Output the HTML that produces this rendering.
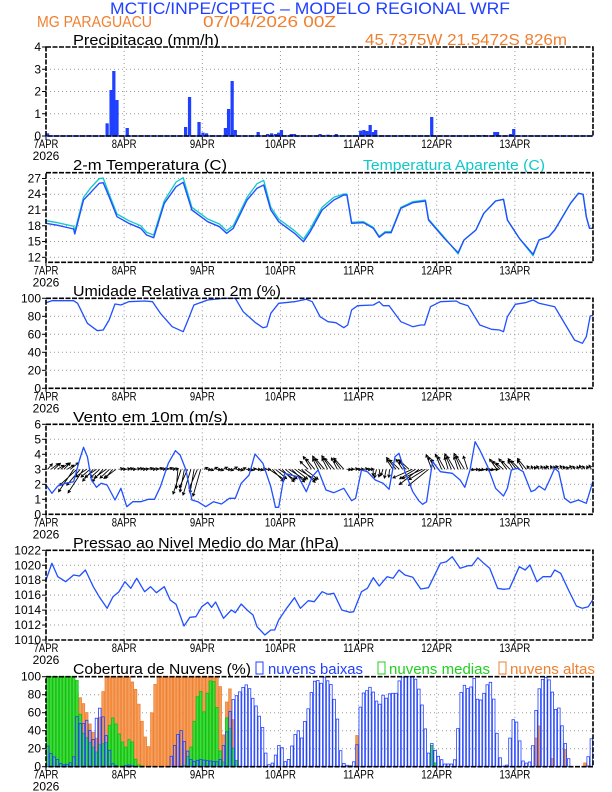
<!DOCTYPE html>
<html><head><meta charset="utf-8"><style>
html,body{margin:0;padding:0;background:#fff;}
svg{display:block;font-family:"Liberation Sans",sans-serif;}
</style></head><body>
<svg id="s" width="612" height="792" viewBox="0 0 612 792" xmlns="http://www.w3.org/2000/svg">
<text x="110" y="14" font-size="17" fill="#2040ff" textLength="400" lengthAdjust="spacingAndGlyphs">MCTIC/INPE/CPTEC – MODELO REGIONAL WRF</text>
<text x="37" y="27" font-size="16" fill="#f08030" textLength="115" lengthAdjust="spacingAndGlyphs">MG PARAGUACU</text>
<text x="203" y="27" font-size="16" fill="#f08030" textLength="133" lengthAdjust="spacingAndGlyphs">07/04/2026 00Z</text>
<text x="365" y="45" font-size="16" fill="#f08030" textLength="202" lengthAdjust="spacingAndGlyphs">45.7375W 21.5472S 826m</text>
<text x="73" y="45" font-size="15" fill="#000" textLength="146" lengthAdjust="spacingAndGlyphs">Precipitacao (mm/h)</text>
<text x="73" y="170" font-size="15" fill="#000" textLength="154" lengthAdjust="spacingAndGlyphs">2-m Temperatura (C)</text>
<text x="363" y="170" font-size="15" fill="#10c8c8" textLength="182" lengthAdjust="spacingAndGlyphs">Temperatura Aparente (C)</text>
<text x="73" y="296" font-size="15" fill="#000" textLength="208" lengthAdjust="spacingAndGlyphs">Umidade Relativa em 2m (%)</text>
<text x="73" y="422" font-size="15" fill="#000" textLength="155" lengthAdjust="spacingAndGlyphs">Vento em 10m (m/s)</text>
<text x="73" y="548" font-size="15" fill="#000" textLength="266" lengthAdjust="spacingAndGlyphs">Pressao ao Nivel Medio do Mar (hPa)</text>
<text x="73" y="674" font-size="15" fill="#000" textLength="178" lengthAdjust="spacingAndGlyphs">Cobertura de Nuvens (%)</text>
<rect x="256" y="662" width="7" height="12" fill="none" stroke="#2040ff"/>
<text x="268" y="674" font-size="15" fill="#2040ff" textLength="95" lengthAdjust="spacingAndGlyphs">nuvens baixas</text>
<rect x="378" y="662" width="7" height="12" fill="none" stroke="#20d020"/>
<text x="389" y="674" font-size="15" fill="#20d020" textLength="101" lengthAdjust="spacingAndGlyphs">nuvens medias</text>
<rect x="499" y="662" width="7" height="12" fill="none" stroke="#f08030"/>
<text x="510" y="674" font-size="15" fill="#f08030" textLength="85" lengthAdjust="spacingAndGlyphs">nuvens altas</text>
<g id="g"></g>
</svg>
<script>
var NS="http://www.w3.org/2000/svg",G=document.getElementById("g");
function el(t,a,txt){var e=document.createElementNS(NS,t);for(var k in a)e.setAttribute(k,a[k]);if(txt!=null)e.textContent=txt;G.appendChild(e);return e;}
var L=46,R=593,W=R-L;
function zx(z){return L+(z-130)/1387*W;}
var days=["7APR","8APR","9APR","10APR","11APR","12APR","13APR"];
function panel(top,bot,vmin,vmax,ticks){
  for(var d=1;d<7;d++){var x=L+d*W/7;el("line",{x1:x,y1:top,x2:x,y2:bot,stroke:"#999","stroke-dasharray":"1,3"});}
  ticks.forEach(function(v){var y=bot-(v-vmin)/(vmax-vmin)*(bot-top);
    if(v>vmin&&v<vmax)el("line",{x1:L,y1:y,x2:R,y2:y,stroke:"#999","stroke-dasharray":"1,3"});
    el("line",{x1:L-4,y1:y,x2:L,y2:y,stroke:"#000"});
    el("text",{x:L-5,y:y+4,"font-size":12,"text-anchor":"end"},String(v));});
  for(var d=0;d<7;d++){var x=L+d*W/7;el("line",{x1:x,y1:bot,x2:x,y2:bot+4,stroke:"#000"});
    el("text",{x:x,y:bot+12,"font-size":12,"text-anchor":"middle",textLength:days[d].length*6.2,lengthAdjust:"spacingAndGlyphs"},days[d]);}
  el("text",{x:L,y:bot+24,"font-size":12,"text-anchor":"middle"},"2026");
}
function frame(top,bot){el("rect",{x:L,y:top,width:W,height:bot-top,fill:"none",stroke:"#000","stroke-width":1.6,"stroke-dasharray":"5,1.5"});}
function line(pts,oy,col,w,dy){var d="";pts.forEach(function(p,i){d+=(i?"L":"M")+zx(p[0]).toFixed(1)+","+(oy+p[1]/3+(dy||0)).toFixed(1);});
  el("path",{d:d,fill:"none",stroke:col,"stroke-width":w||1.3,"stroke-linejoin":"round"});}
function P(a){var r=[];for(var i=0;i<a.length;i+=2)r.push([a[i],a[i+1]]);return r;}

panel(47,136,0,4,[0,1,2,3,4]);
var pr=[134,400,240,406,285,370,295,270,302,213,310,300,336,384,484,381,494,291,518,366,528,398,537,400,585,384,593,327,602,243,610,390,668,396,692,402,702,400,712,402,720,398,727,390,752,402,760,402,825,402,845,404,866,402,928,392,936,390,944,393,952,375,960,396,966,390,1043,405,1108,351,1225,405,1240,405,1268,396,1275,396,1308,402,1316,387,1425,405];
var bw=W/168;
for(var i=0;i<pr.length;i+=2){var x=zx(pr[i])-bw/2,y=pr[i+1]/3;el("rect",{x:x,y:y,width:bw,height:136-y,fill:"#2040ff"});}
el("line",{x1:L,y1:136,x2:R,y2:136,stroke:"#2040ff","stroke-width":1.5});
frame(47,136);

panel(172.7,262.3,11.05,28.1,[12,15,18,21,24,27]);
var T=P([130,190,160,196,200,207,203,222,225,120,245,95,265,70,275,68,290,110,310,170,340,190,370,205,385,225,403,233,430,130,460,80,478,67,500,150,540,185,570,200,588,220,605,205,640,120,665,85,682,75,700,150,720,185,760,220,783,245,800,215,830,150,860,120,885,105,893,105,905,190,935,188,960,205,975,232,990,218,1005,218,1030,145,1060,128,1092,123,1100,180,1140,235,1175,278,1190,240,1220,210,1240,160,1270,123,1290,118,1300,180,1330,235,1365,283,1380,240,1405,230,1420,210,1460,130,1480,100,1492,103,1500,170,1508,205,1517,205]);
var C=T.map(function(p){var o=p[0]<880?(p[1]<110?-14:-8):(p[0]<1150?-3:(p[1]>270?4:0));return [p[0],p[1]+o];});
line(C,160,"#10c8c8",1.3);line(T,160,"#2050ff",1.4);
frame(172.7,262.3);

panel(298.3,388.3,0,100,[0,20,40,60,80,100]);
line(P([130,428,145,422,200,422,210,430,235,490,260,512,275,510,290,480,305,432,320,435,340,425,380,423,400,425,420,460,450,500,478,515,490,480,505,435,540,420,580,415,610,415,630,455,660,487,680,503,690,500,700,460,720,430,760,425,790,418,805,425,825,470,845,485,865,488,885,503,895,495,905,450,920,437,960,435,975,425,985,437,1000,437,1030,485,1060,500,1080,495,1090,495,1105,440,1130,425,1170,423,1180,430,1200,437,1230,495,1260,508,1280,510,1290,515,1300,470,1320,433,1345,428,1365,420,1380,430,1420,440,1440,480,1470,540,1490,550,1500,530,1510,468,1517,466]),160,"#2050ff",1.3);
frame(298.3,388.3);

panel(424.3,514.3,0,6,[0,1,2,3,4,5,6]);
var base=424.3+(3/6)*90;
function arr(h){
  var a,l;
  if(h<8){a=-40;l=9;}else if(h<12){a=130;l=26;}else if(h<22){a=140;l=14;}
  else if(h<40){a=-10;l=4;}else if(h<48){a=105;l=24;}else if(h<68){a=(h%3)*20-20;l=4;}
  else if(h<80){a=40;l=18;}else if(h<92){a=-125;l=14;}else if(h<100){a=0;l=4;}
  else if(h<106){a=100;l=8;}else if(h<112){a=-130;l=13;}else if(h<118){a=150;l=22;}
  else if(h<130){a=-115;l=15;}else if(h<138){a=10;l=4;}else if(h<148){a=-130;l=12;}
  else {a=-120;l=4;}
  l*=0.8+0.4*((h*37)%10)/10; a+=((h*53)%20)-10;
  return [a*Math.PI/180,l];
}
var ad="";
for(var h=0;h<168;h++){var x=L+h*bw+bw/2,v=arr(h),dx=Math.cos(v[0])*v[1],dy=Math.sin(v[0])*v[1];
  var ex=x+dx,ey=base+dy,ang=Math.atan2(dy,dx),hl=3;
  ad+="M"+x.toFixed(1)+","+base.toFixed(1)+"L"+ex.toFixed(1)+","+ey.toFixed(1);
  ad+="M"+(ex-hl*Math.cos(ang-0.5)).toFixed(1)+","+(ey-hl*Math.sin(ang-0.5)).toFixed(1)+"L"+ex.toFixed(1)+","+ey.toFixed(1)+"L"+(ex-hl*Math.cos(ang+0.5)).toFixed(1)+","+(ey-hl*Math.sin(ang+0.5)).toFixed(1);}
el("path",{d:ad,fill:"none",stroke:"#000","stroke-width":0.9});
line(P([130,255,145,280,160,258,180,250,200,245,215,180,225,142,235,170,245,240,258,262,270,250,285,255,305,300,320,265,335,320,350,305,370,305,390,298,405,298,420,260,440,190,458,152,470,165,485,210,500,300,515,305,535,320,555,305,575,312,595,295,610,295,625,250,645,225,660,162,680,190,700,260,712,322,720,322,735,220,750,225,770,230,790,275,805,230,820,210,840,270,860,278,885,265,905,302,915,295,930,210,945,215,965,240,985,250,1000,268,1015,170,1025,160,1040,215,1060,275,1075,302,1085,313,1095,305,1110,185,1130,215,1160,220,1180,240,1192,262,1205,210,1218,125,1230,150,1250,200,1270,265,1290,288,1300,265,1310,210,1325,205,1340,215,1360,275,1370,270,1380,258,1395,270,1405,245,1420,205,1430,215,1445,295,1460,308,1480,300,1500,310,1517,243]),400,"#2050ff",1.3);
frame(424.3,514.3);

panel(550.3,640,1010,1022,[1010,1012,1014,1016,1018,1020,1022]);
line(P([130,540,145,490,160,530,180,545,200,525,215,528,230,510,250,560,265,590,285,625,300,590,315,575,330,545,345,565,360,535,380,575,395,560,410,578,430,560,445,600,460,613,480,678,495,652,510,650,525,620,540,607,550,622,560,606,580,655,600,630,610,638,625,612,640,630,655,645,665,680,685,705,700,690,710,690,720,660,740,625,760,593,775,625,795,602,810,605,830,575,845,583,860,580,880,630,900,637,910,635,930,575,945,565,960,533,975,558,995,530,1010,535,1025,510,1040,525,1060,532,1080,567,1100,563,1130,490,1145,485,1160,470,1180,505,1200,497,1210,497,1225,473,1240,490,1255,505,1275,565,1290,568,1305,566,1330,500,1345,510,1357,495,1375,545,1390,530,1410,530,1420,510,1435,520,1455,570,1475,618,1490,625,1505,620,1517,598]),400,"#2050ff",1.3);
frame(550.3,640);

var top6=676.7,bot6=766.7;
panel(top6,bot6,0,100,[0,20,40,60,80,100]);
function interp(k,h){var z=130+h/168*1387;for(var i=0;i<k.length-2;i+=2){if(z>=k[i]&&z<=k[i+2]){var t=(z-k[i])/((k[i+2]-k[i])||1);return k[i+1]+t*(k[i+3]-k[i+1]);}}return k[k.length-1];}
var hi=[130,100,200,100,210,80,220,75,230,65,245,42,260,30,270,70,280,100,340,100,355,90,370,60,380,33,387,33,393,12,400,75,410,100,570,100,580,35,590,80,600,90,610,10,620,0,915,0,918,37,925,0,1365,0,1370,12,1378,75,1385,0,1410,0,1415,12,1420,0,1440,0,1450,28,1455,0,1495,0,1500,15,1505,0,1517,0];
var md=[130,100,200,100,210,95,220,40,240,28,260,15,270,30,280,20,290,45,300,55,310,45,320,30,335,20,345,38,355,10,365,2,380,0,480,0,500,25,510,70,520,90,530,60,540,85,550,100,560,90,570,20,580,5,590,65,600,30,610,10,620,0,1100,0,1105,33,1115,5,1125,0,1517,0];
var lo=[130,27,145,12,155,10,170,2,190,3,200,10,210,64,220,40,230,56,240,42,250,30,260,60,270,68,280,40,290,20,300,2,320,0,340,2,360,0,440,0,470,44,485,22,500,5,520,8,570,5,590,42,600,72,615,80,625,85,635,92,645,88,655,75,665,65,680,42,690,5,700,0,715,16,725,30,735,5,745,8,760,35,770,40,780,30,785,48,795,65,805,87,815,100,825,90,835,100,845,95,855,90,870,50,880,5,900,0,910,5,920,28,925,63,935,82,945,85,955,90,965,75,975,68,985,80,995,75,1005,85,1015,77,1025,95,1035,100,1065,100,1080,80,1090,48,1100,15,1110,28,1120,13,1130,10,1140,3,1165,3,1175,45,1185,94,1195,88,1205,85,1215,100,1225,72,1235,75,1245,87,1255,98,1265,76,1275,30,1285,0,1300,2,1310,48,1320,57,1330,32,1340,5,1355,3,1365,25,1375,75,1385,95,1395,100,1410,95,1420,63,1430,66,1440,42,1450,18,1460,0,1500,0,1510,24,1517,41];
function bars(k,fill,stroke){for(var h=0;h<168;h++){var v=interp(k,h+0.5);if(v<0.5)continue;var y=bot6-v/100*90;
  el("rect",{x:(L+h*bw+0.4).toFixed(1),y:y.toFixed(1),width:(bw-0.8).toFixed(1),height:(bot6-y).toFixed(1),fill:fill,stroke:stroke,"stroke-width":0.8});}}
bars(hi,"#f4a060","#f08030");
bars(md,"#40dd40","#10c010");
bars(lo,"none","#2040ff");
frame(top6,bot6);
</script>
</body></html>
